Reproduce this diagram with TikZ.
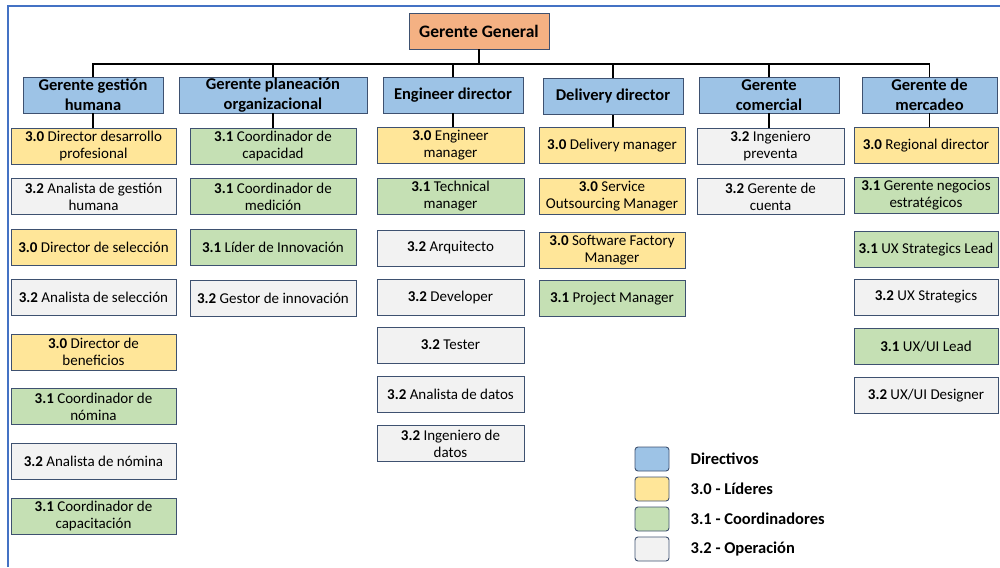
\documentclass[tikz,border=0pt]{standalone}
\usepackage{fontspec}
\setmainfont{Carlito}
\usetikzlibrary{positioning}
\definecolor{bordc}{HTML}{3E5170}
\definecolor{framec}{HTML}{4472C4}
\definecolor{cgen}{HTML}{F4B183}
\definecolor{cdir}{HTML}{9DC3E6}
\definecolor{clid}{HTML}{FFE699}
\definecolor{ccoo}{HTML}{C5E0B4}
\definecolor{cope}{HTML}{F2F2F2}

\begin{document}
\begin{tikzpicture}[x=1pt,y=-1pt,
    box/.style={draw=bordc, line width=0.9pt, align=center, minimum height=36pt,
      inner sep=1pt, font=\fontsize{15}{17}\selectfont},
    genbox/.style={box, fill=cgen, minimum width=140pt, font=\fontsize{17.5}{20}\selectfont\bfseries},
    dirbox/.style={box, fill=cdir, font=\fontsize{16.5}{19.5}\selectfont\bfseries},
    lidbox/.style={box, fill=clid},
    coobox/.style={box, fill=ccoo},
    opebox/.style={box, fill=cope},
    legbox/.style={draw=bordc, line width=0.9pt, rounded corners=3pt, minimum width=34pt, minimum height=24pt, inner sep=0pt},
    legtext/.style={inner sep=0pt, anchor=west, font=\fontsize{16.5}{19}\selectfont\bfseries},
    link/.style={line width=1.6pt},
    c1/.style={minimum width=165pt}, c2/.style={minimum width=166pt},
    c3/.style={minimum width=147pt}, c4/.style={minimum width=146pt},
    c5/.style={minimum width=147pt}, c6/.style={minimum width=144pt}]
  \useasboundingbox (0,0) rectangle (1000,567);
  \draw[framec, line width=1.4pt] (8,567) -- (8,6) -- (1000,6);

  \node[genbox] (gg) at (479,31) {Gerente General};

  \node[dirbox, minimum width=140pt] (gh) at (93,95) {Gerente gestión\\humana};
  \node[dirbox, minimum width=188pt] (po) at (273,95) {Gerente planeación\\organizacional};
  \node[dirbox, minimum width=140pt] (ed) at (453,95) {Engineer director};
  \node[dirbox, minimum width=140pt] (dd) at (613,96.5) {Delivery director};
  \node[dirbox, minimum width=140pt] (gc) at (769,95) {Gerente\\comercial};
  \node[dirbox, minimum width=135pt] (gm) at (929.5,95) {Gerente de\\mercadeo};

  \coordinate (bus) at (479,64);
  \draw[link] (gg.south) -- (bus);
  \foreach \n in {gh,po,ed,dd,gc,gm}
    \draw[link] (bus) -| (\n.north);

  \node[lidbox, c1] (gh1) at (93.5,146) {\textbf{3.0} Director desarrollo\\profesional};
  \node[opebox, c1] (gh2) at (93.5,196.5) {\textbf{3.2} Analista de gestión\\humana};
  \node[lidbox, c1] (gh3) at (93.5,247) {\textbf{3.0} Director de selección};
  \node[opebox, c1] (gh4) at (93.5,297.5) {\textbf{3.2} Analista de selección};
  \node[lidbox, c1] (gh5) at (93.5,352) {\textbf{3.0} Director de\\beneficios};
  \node[coobox, c1] (gh6) at (93.5,406.5) {\textbf{3.1} Coordinador de\\nómina};
  \node[opebox, c1] (gh7) at (93.5,461.5) {\textbf{3.2} Analista de nómina};
  \node[coobox, c1] (gh8) at (93.5,516) {\textbf{3.1} Coordinador de\\capacitación};

  \node[coobox, c2] (po1) at (273,146) {\textbf{3.1} Coordinador de\\capacidad};
  \node[coobox, c2] (po2) at (273,196.5) {\textbf{3.1} Coordinador de\\medición};
  \node[coobox, c2] (po3) at (273,247) {\textbf{3.1} Líder de Innovación};
  \node[opebox, c2] (po4) at (273,298.5) {\textbf{3.2} Gestor de innovación};

  \node[lidbox, c3] (ed1) at (450.5,145.5) {\textbf{3.0} Engineer\\manager};
  \node[coobox, c3] (ed2) at (450.5,196) {\textbf{3.1} Technical\\manager};
  \node[opebox, c3] (ed3) at (450.5,248) {\textbf{3.2} Arquitecto};
  \node[opebox, c3] (ed4) at (450.5,297.5) {\textbf{3.2} Developer};
  \node[opebox, c3] (ed5) at (450.5,345) {\textbf{3.2} Tester};
  \node[opebox, c3] (ed6) at (450.5,394) {\textbf{3.2} Analista de datos};
  \node[opebox, c3] (ed7) at (450.5,443.5) {\textbf{3.2} Ingeniero de\\datos};

  \node[lidbox, c4] (dd1) at (612,145.5) {\textbf{3.0} Delivery manager};
  \node[lidbox, c4] (dd2) at (612,196.5) {\textbf{3.0} Service\\Outsourcing Manager};
  \node[lidbox, c4] (dd3) at (612,250) {\textbf{3.0} Software Factory\\Manager};
  \node[coobox, c4] (dd4) at (612,298.5) {\textbf{3.1} Project Manager};

  \node[opebox, c5] (gc1) at (770.5,146) {\textbf{3.2} Ingeniero\\preventa};
  \node[opebox, c5] (gc2) at (770.5,196.5) {\textbf{3.2} Gerente de\\cuenta};

  \node[lidbox, c6] (gm1) at (926,145.5) {\textbf{3.0} Regional director};
  \node[coobox, c6] (gm2) at (926,195) {\textbf{3.1} Gerente negocios\\estratégicos};
  \node[coobox, c6] (gm3) at (926,249.5) {\textbf{3.1} UX Strategics Lead};
  \node[opebox, c6] (gm4) at (926,297) {\textbf{3.2} UX Strategics};
  \node[coobox, c6] (gm5) at (926,346.5) {\textbf{3.1} UX/UI Lead};
  \node[opebox, c6] (gm6) at (926,395.5) {\textbf{3.2} UX/UI Designer};

  \foreach \n in {gh,po,ed,dd,gc,gm}
    \draw[link] (\n.south) -- (\n.south |- \n1.north);

  \node[legbox, fill=cdir] (l1) at (652,459) {};
  \node[legbox, fill=clid] (l2) at (652,489) {};
  \node[legbox, fill=ccoo] (l3) at (652,519) {};
  \node[legbox, fill=cope] (l4) at (652,549) {};
  \node[legtext, right=21pt of l1] (t1) {Directivos};
  \node[legtext, right=21pt of l2] (t2) {3.0 - Líderes};
  \node[legtext, right=21pt of l3] (t3) {3.1 - Coordinadores};
  \node[legtext, right=21pt of l4] (t4) {3.2 - Operación};
\end{tikzpicture}
\end{document}
